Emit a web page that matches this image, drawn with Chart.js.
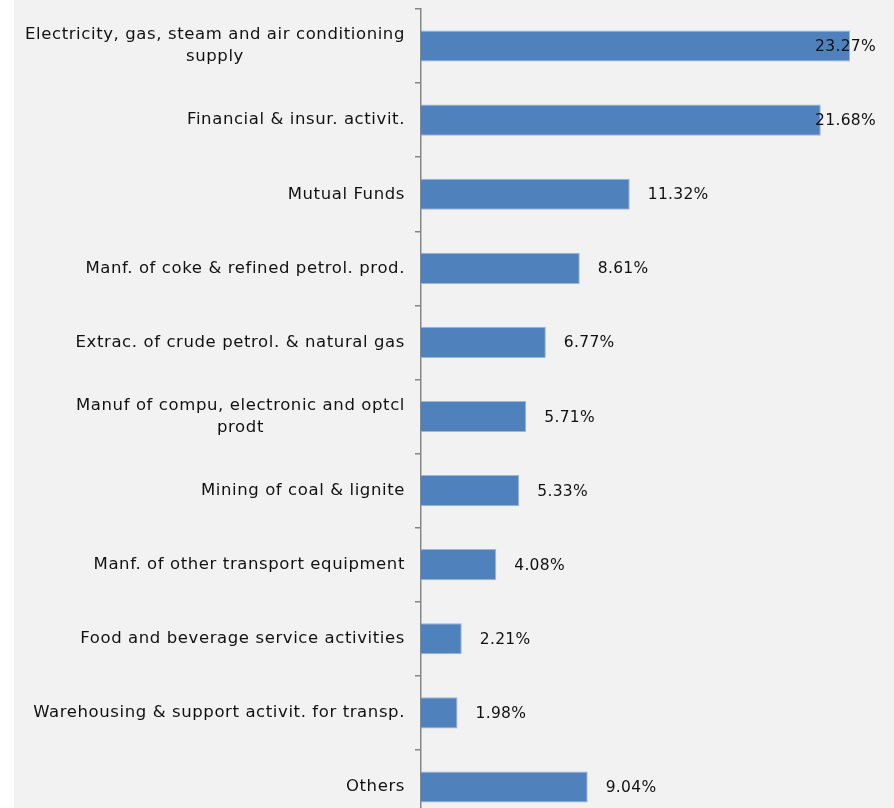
<!DOCTYPE html>
<html>
<head>
<meta charset="utf-8">
<script src="https://cdn.jsdelivr.net/npm/chart.js@4/dist/chart.umd.min.js"></script>
<style>
  html, body { margin: 0; padding: 0; background: #ffffff; width: 894px; height: 808px; overflow: hidden; }
  #wrap { position: absolute; left: 14px; top: 0; width: 880px; height: 830px; background: #f2f2f2; }
  canvas { display: block; }
</style>
</head>
<body>
<div id="wrap"><canvas id="chart" width="880" height="830"></canvas></div>
<script>
// Sector shares (%), top to bottom
const categories = [
  ["Electricity, gas, steam and air conditioning", "supply"],
  ["Financial & insur. activit."],
  ["Mutual Funds"],
  ["Manf. of coke & refined petrol. prod."],
  ["Extrac. of crude petrol. & natural gas"],
  ["Manuf of compu, electronic and optcl", "prodt"],
  ["Mining of coal & lignite"],
  ["Manf. of other transport equipment"],
  ["Food and beverage service activities"],
  ["Warehousing & support activit. for transp."],
  ["Others"]
];
const shares = [23.27, 21.68, 11.32, 8.61, 6.77, 5.71, 5.33, 4.08, 2.21, 1.98, 9.04];
const valueLabels = shares.map(v => v.toFixed(2) + "%");

const FONT = '"DejaVu Sans", sans-serif';
const AXIS_LEFT = 407;

// Category names: right-aligned block, each line centred inside it
const categoryLabels = {
  id: 'categoryLabels',
  afterDraw(chart) {
    const ctx = chart.ctx;
    const y = chart.scales.y;
    ctx.save();
    ctx.font = '16.5px ' + FONT;
    ctx.letterSpacing = '0.6px';
    ctx.fillStyle = '#111111';
    ctx.textBaseline = 'middle';
    ctx.textAlign = 'center';
    const lineH = 22;
    const right = AXIS_LEFT - 16;
    categories.forEach((lines, i) => {
      const cy = y.getPixelForValue(i);
      const w = Math.max(...lines.map(l => ctx.measureText(l).width));
      const cx = right - w / 2;
      const y0 = cy - (lines.length - 1) * lineH / 2;
      lines.forEach((l, k) => ctx.fillText(l, cx, y0 + k * lineH));
    });
    ctx.restore();
  }
};

// Value labels just past each bar end, pulled inside the plot when they would overflow
const valueTags = {
  id: 'valueTags',
  afterDatasetsDraw(chart) {
    const ctx = chart.ctx;
    const meta = chart.getDatasetMeta(0);
    ctx.save();
    ctx.font = '15.5px ' + FONT;
    ctx.letterSpacing = '0.3px';
    ctx.fillStyle = '#111111';
    ctx.textBaseline = 'middle';
    ctx.textAlign = 'left';
    const limit = chart.chartArea.right - 6;
    meta.data.forEach((bar, i) => {
      const t = valueLabels[i];
      const w = ctx.measureText(t).width;
      let x = bar.x + 18;
      if (x + w > limit) x = limit - w;
      ctx.fillText(t, x, bar.y + 1);
    });
    ctx.restore();
  }
};

new Chart(document.getElementById('chart'), {
  type: 'bar',
  data: {
    labels: categories.map(c => c.join(' ')),
    datasets: [{
      data: shares,
      backgroundColor: '#4f81bd',
      borderColor: '#9db5d8',
      borderWidth: 1,
      barPercentage: 0.42,
      categoryPercentage: 1.0
    }]
  },
  options: {
    indexAxis: 'y',
    responsive: false,
    animation: false,
    layout: { padding: { top: 9, right: 12, bottom: 6, left: 0 } },
    plugins: { legend: { display: false }, tooltip: { enabled: false } },
    scales: {
      x: { display: false, min: 0, max: 25 },
      y: {
        afterFit(scale) { scale.width = AXIS_LEFT; },
        ticks: { display: false },
        grid: { drawOnChartArea: false, drawTicks: true, tickLength: 6, color: '#868686', lineWidth: 1.5, offset: true },
        border: { display: true, color: '#868686', width: 1.5 }
      }
    }
  },
  plugins: [categoryLabels, valueTags]
});
</script>
</body>
</html>
